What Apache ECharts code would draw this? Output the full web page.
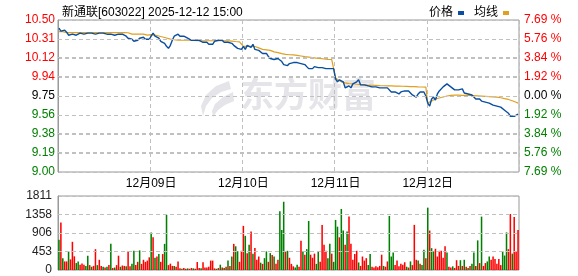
<!DOCTYPE html>
<html><head><meta charset="utf-8">
<script src="https://cdn.jsdelivr.net/npm/echarts@6/dist/echarts.min.js"></script>
<style>html,body{margin:0;padding:0;background:#fff}#c{width:578px;height:276px}</style>
</head><body><div id="c"></div>
<script>
const titleText = '新通联[603022] 2025-12-12 15:00';
const days = ['12月08日', '12月09日', '12月10日', '12月11日', '12月12日'];
const priceLabels = ['9.00', '9.19', '9.38', '9.56', '9.75', '9.94', '10.12', '10.31', '10.50'];
const pctLabels = ['7.69 %', '5.76 %', '3.84 %', '1.92 %', '0.00 %', '1.92 %', '3.84 %', '5.76 %', '7.69 %'];
const volLabels = ['0', '453', '906', '1358', '1811'];

const price1 = [10.42,10.39,10.39,10.40,10.38,10.35,10.35,10.36,10.36,10.35,10.36,10.37,10.36,10.36,10.35,10.37,10.38,10.37,10.36,10.36,10.36,10.37,10.36,10.37,10.36,10.36,10.36,10.36,10.36,10.35,10.35,10.36,10.36,10.36,10.35,10.34,10.32,10.31,10.31,10.29,10.29,10.30,10.32,10.33,10.33,10.31,10.30,10.31];
const price2 = [10.34,10.37,10.34,10.33,10.32,10.29,10.28,10.27,10.24,10.22,10.25,10.30,10.34,10.35,10.36,10.34,10.33,10.34,10.33,10.32,10.33,10.30,10.30,10.30,10.29,10.30,10.29,10.28,10.27,10.28,10.26,10.25,10.26,10.29,10.30,10.30,10.29,10.30,10.28,10.28,10.28,10.27,10.27,10.25,10.24,10.22,10.23,10.21];
const price3 = [10.24,10.21,10.25,10.26,10.23,10.26,10.21,10.22,10.20,10.21,10.17,10.16,10.17,10.14,10.12,10.11,10.11,10.12,10.12,10.11,10.09,10.06,10.07,10.05,10.07,10.07,10.08,10.07,10.08,10.09,10.07,10.08,10.06,10.04,10.02,10.01,10.02,10.04,10.05,10.03,10.04,10.03,10.03,10.02,10.01,10.02,10.01,10.02];
const price4 = [9.92,9.89,9.91,9.90,9.89,9.83,9.83,9.85,9.83,9.87,9.88,9.89,9.91,9.86,9.85,9.86,9.86,9.85,9.86,9.84,9.83,9.84,9.83,9.83,9.82,9.83,9.82,9.83,9.82,9.79,9.78,9.79,9.78,9.77,9.79,9.80,9.80,9.80,9.80,9.79,9.76,9.75,9.74,9.77,9.79,9.78,9.79,9.75];
const price5 = [9.68,9.65,9.72,9.74,9.71,9.77,9.80,9.79,9.84,9.85,9.87,9.88,9.84,9.85,9.81,9.82,9.81,9.82,9.82,9.78,9.79,9.77,9.77,9.76,9.76,9.72,9.71,9.72,9.70,9.69,9.69,9.68,9.68,9.67,9.66,9.66,9.65,9.66,9.64,9.64,9.61,9.60,9.58,9.55,9.55,9.55,9.56,9.57];

const avg1 = [10.385,10.385,10.385,10.378,10.376,10.375,10.375,10.375,10.375,10.375,10.375,10.375,10.375,10.375,10.375,10.375,10.375,10.375,10.375,10.375,10.375,10.375,10.375,10.375,10.375,10.375,10.375,10.375,10.375,10.375,10.375,10.375,10.375,10.375,10.375,10.375,10.374,10.372,10.36,10.36,10.36,10.36,10.36,10.36,10.36,10.358,10.35,10.35];
const avg2 = [10.355,10.352,10.35,10.348,10.342,10.338,10.332,10.328,10.322,10.318,10.312,10.308,10.305,10.302,10.30,10.30,10.30,10.30,10.30,10.30,10.30,10.30,10.298,10.296,10.295,10.295,10.295,10.295,10.295,10.295,10.295,10.295,10.295,10.295,10.295,10.295,10.295,10.295,10.295,10.295,10.294,10.293,10.292,10.29,10.288,10.286,10.285,10.284];
const avg3 = [10.24,10.24,10.241,10.242,10.241,10.24,10.238,10.23,10.225,10.22,10.21,10.207,10.205,10.203,10.20,10.19,10.185,10.18,10.178,10.175,10.168,10.162,10.16,10.158,10.157,10.156,10.155,10.153,10.15,10.148,10.145,10.142,10.138,10.135,10.133,10.131,10.128,10.125,10.124,10.123,10.121,10.118,10.115,10.113,10.112,10.111,10.11,10.11];
const avg4 = [9.93,9.91,9.90,9.89,9.885,9.88,9.875,9.872,9.87,9.869,9.868,9.866,9.864,9.862,9.861,9.86,9.859,9.858,9.857,9.856,9.855,9.854,9.853,9.852,9.852,9.851,9.851,9.85,9.85,9.85,9.849,9.848,9.848,9.847,9.847,9.846,9.846,9.845,9.844,9.843,9.842,9.842,9.841,9.84,9.84,9.839,9.838,9.837];
const avg5 = [9.68,9.69,9.70,9.71,9.72,9.725,9.73,9.735,9.74,9.745,9.75,9.755,9.757,9.758,9.758,9.758,9.758,9.757,9.757,9.756,9.756,9.755,9.755,9.754,9.753,9.752,9.751,9.75,9.749,9.748,9.747,9.745,9.743,9.742,9.741,9.74,9.738,9.736,9.733,9.728,9.724,9.72,9.716,9.71,9.703,9.695,9.688,9.68];

const vol1 = [740,1160,290,210,210,455,260,690,335,170,210,130,160,130,100,350,120,80,100,510,120,250,100,80,60,80,120,640,50,60,120,350,80,110,100,90,450,90,150,470,120,200,480,150,250,200,230,310];
const vol2 = [920,800,300,330,390,200,390,640,1350,120,155,100,100,80,210,40,30,50,30,40,30,50,40,30,195,50,40,190,60,60,80,230,230,40,30,50,130,60,50,80,230,100,330,640,580,460,200,470];
const vol3 = [1080,836,410,620,940,400,540,250,330,180,150,290,455,200,414,370,330,150,250,1440,980,1670,455,470,300,150,90,60,130,80,715,455,375,510,1200,375,300,400,150,455,200,1100,620,470,290,640,400,200];
const vol4 = [1225,1060,800,1494,966,620,940,1307,640,250,390,470,185,100,330,230,290,120,390,80,60,90,70,100,375,100,80,210,1323,330,430,120,230,90,150,130,190,80,60,210,120,1104,250,235,150,120,495,290];
const vol5 = [1526,966,535,455,520,330,470,470,300,580,430,80,60,90,50,240,100,240,100,250,80,50,100,155,430,100,725,170,1307,100,170,210,330,250,330,270,150,270,120,455,355,920,510,1370,400,1300,450,980];
// R = up minute, G = down minute
const dir1 = 'GRGRRGRRRG' + 'GRRRGGRGRR' + 'GRRGRGRGRG' + 'RRGRRGRRGG' + 'RRGRRRRR';
const dir2 = 'GRGRGRRGGR' + 'RRGRRRGRRG' + 'RRGRRRGRRR' + 'RRRRGRGRGR' + 'GRGRGGRR';
const dir3 = 'RGRGRGRRRG' + 'RGGRGRGRRG' + 'GGRGRRRGGR' + 'RGRGGRRRGG' + 'RRRRGGRG';
const dir4 = 'GGRGGRGRRR' + 'RRGRRRRGGR' + 'RRRRRGRRGG' + 'GRRRRRRGRG' + 'RRRGRGGR';
const dir5 = 'GRGGRRRRRR' + 'GRRGRRRGRG' + 'RGRGGRGRGR' + 'RGGRRRRRRG' + 'GGRRGRRR';

const prices = [price1, price2, price3, price4, price5];
const avgs = [avg1, avg2, avg3, avg4, avg5];
const vols = [vol1, vol2, vol3, vol4, vol5];
const dirs = [dir1, dir2, dir3, dir4, dir5];

const perDay = price1.length;
const cats = [];
days.forEach(d => { for (let i = 0; i < perDay; i++) cats.push(d + '#' + i); });
const price = [].concat(...prices);
const avg = [].concat(...avgs);
const dirAll = dirs.join('');
const volData = [].concat(...vols).map((v, i) => ({ value: v, itemStyle: { color: dirAll[i] === 'R' ? '#ff0000' : '#008000' } }));

const FONT = "'Liberation Sans','Noto Sans CJK SC',Arial,sans-serif";
const pMin = 9.0, pMax = 10.5, pStep = 0.1875;
const vMax = 1811, vStep = vMax / (volLabels.length - 1);
const idxOf = v => Math.round((parseFloat(v) - pMin) / pStep);
const sideColor = v => { const i = idxOf(v); return i > 4 ? '#ff0000' : (i < 4 ? '#008000' : '#000000'); };
const dashed = () => ({ color: '#c0c0c0', type: [4, 3], width: 1 });
const isBoundary = i => i % perDay === 0 && i > 0;
const priceLevels = priceLabels.slice(1, -1).map((_, i) => ({ yAxis: pMin + (i + 1) * pStep }));
const volLevels = volLabels.slice(1, -1).map((_, i) => ({ yAxis: (i + 1) * vStep }));
const gridMarkLine = levels => ({ silent: true, symbol: ['none', 'none'], label: { show: false }, emphasis: { disabled: true }, lineStyle: dashed(), data: levels, animation: false });

const chart = echarts.init(document.getElementById('c'), null, { renderer: 'canvas' });
chart.setOption({
  animation: false,
  textStyle: { fontFamily: FONT },
  title: { text: titleText, left: 57, top: 2, textStyle: { fontSize: 12, fontWeight: 'normal', color: '#000', fontFamily: FONT } },
  legend: {
    data: ['价格', '均线'], right: 64, top: 2, align: 'right', icon: 'rect', itemWidth: 6, itemHeight: 4, itemGap: 10,
    textStyle: { fontSize: 12, color: '#000', fontFamily: FONT }
  },
  graphic: [
    { type: 'polygon', z: -1, silent: true, shape: { points: [[229,81],[216,86],[206,95],[201,106],[203,116],[206,106],[212,98],[221,92],[231,89]] }, style: { fill: '#e4e4e9' } },
    { type: 'polygon', z: -1, silent: true, shape: { points: [[233,92],[223,97],[215,104],[212,111],[213,117],[218,110],[225,105],[234,101]] }, style: { fill: '#e4e4e9' } },
    { type: 'text', z: -1, silent: true, left: 240, top: 77, style: { text: '东方财富', font: 'bold 34px "Noto Sans CJK SC"', fill: '#e4e4e9' } }
  ],
  grid: [
    { left: 58, right: 59, top: 20, height: 152, show: true, borderColor: '#999', borderWidth: 1, backgroundColor: 'transparent' },
    { left: 58, right: 59, top: 196, height: 74, show: true, borderColor: '#999', borderWidth: 1, backgroundColor: 'transparent' }
  ],
  xAxis: [
    {
      type: 'category', gridIndex: 0, data: cats, boundaryGap: true,
      axisLine: { show: false }, axisTick: { show: false },
      axisLabel: { interval: isBoundary, formatter: v => v.split('#')[0], color: '#000', fontSize: 12, margin: 6, fontFamily: FONT },
      splitLine: { show: true, interval: isBoundary, lineStyle: dashed() }
    },
    {
      type: 'category', gridIndex: 1, data: cats, boundaryGap: true,
      axisLine: { show: false }, axisTick: { show: false }, axisLabel: { show: false }, splitLine: { show: false }
    }
  ],
  yAxis: [
    {
      type: 'value', gridIndex: 0, min: pMin, max: pMax, interval: pStep, position: 'left',
      axisLine: { show: true, lineStyle: { color: '#999' } }, axisTick: { show: false },
      axisLabel: { formatter: v => priceLabels[idxOf(v)], color: sideColor, fontSize: 12, margin: 3, fontFamily: FONT },
      splitLine: { show: true, lineStyle: dashed() }
    },
    {
      type: 'value', gridIndex: 0, min: pMin, max: pMax, interval: pStep, position: 'right',
      axisLine: { show: false }, axisTick: { show: false }, splitLine: { show: false },
      axisLabel: { formatter: v => pctLabels[idxOf(v)], color: sideColor, fontSize: 12, margin: 5, fontFamily: FONT }
    },
    {
      type: 'value', gridIndex: 1, min: 0, max: vMax, interval: vStep, position: 'left',
      axisLine: { show: true, lineStyle: { color: '#999' } }, axisTick: { show: false },
      axisLabel: { formatter: v => volLabels[Math.round(v / vStep)], color: '#222', fontSize: 12, margin: 6, fontFamily: FONT },
      splitLine: { show: true, lineStyle: dashed() }
    }
  ],
  series: [
    { name: '均线', type: 'line', xAxisIndex: 0, yAxisIndex: 0, data: avg, showSymbol: false, symbol: 'none', z: 3,
      lineStyle: { width: 1.2, color: '#e0a020' }, itemStyle: { color: '#e0a020' }, markLine: gridMarkLine(priceLevels) },
    { name: '价格', type: 'line', xAxisIndex: 0, yAxisIndex: 0, data: price, showSymbol: false, symbol: 'none', z: 4,
      lineStyle: { width: 1.4, color: '#0a4f9f' }, itemStyle: { color: '#0a4f9f' } },
    { name: '成交量', type: 'bar', xAxisIndex: 1, yAxisIndex: 2, data: volData, barCategoryGap: '20%', z: 2, markLine: gridMarkLine(volLevels) }
  ]
});
</script></body></html>
